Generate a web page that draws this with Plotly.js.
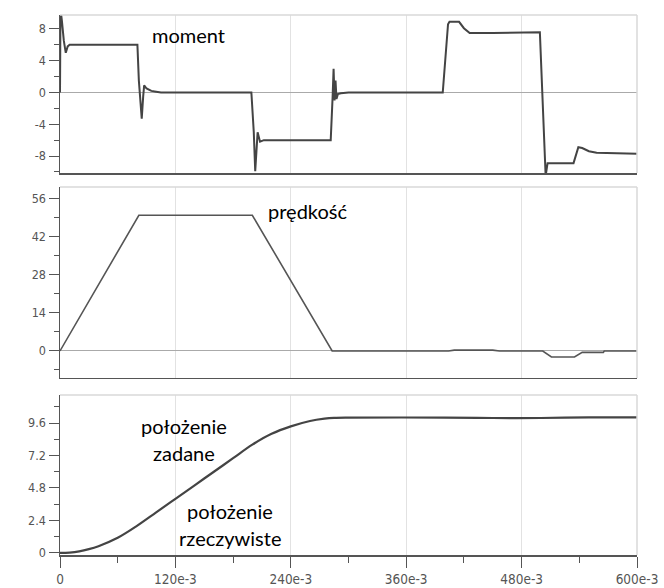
<!DOCTYPE html>
<html>
<head>
<meta charset="utf-8">
<script src="https://cdn.plot.ly/plotly-3.0.1.min.js"></script>
<style>html,body{margin:0;padding:0;background:#fff;}#chart{width:664px;height:588px;}</style>
</head>
<body>
<div id="chart"></div>
<script>
// ---- data ----
var momentT = [0, 0.0005, 0.002, 0.004, 0.006, 0.008, 0.01, 0.05, 0.0805, 0.082, 0.0835, 0.085, 0.0865, 0.0875, 0.09, 0.095, 0.1, 0.105, 0.15, 0.199, 0.2015, 0.203, 0.2055, 0.208, 0.212, 0.25, 0.2815, 0.2835, 0.2845, 0.2855, 0.2865, 0.2875, 0.289, 0.292, 0.3, 0.35, 0.398, 0.4035, 0.405, 0.415, 0.42, 0.426, 0.45, 0.499, 0.505, 0.507, 0.52, 0.534, 0.539, 0.543, 0.55, 0.558, 0.6];
var momentV = [0, 10.5, 9.0, 6.5, 5.0, 5.8, 6.0, 6.0, 6.0, 1.5, -1.0, -3.3, -0.5, 0.9, 0.5, 0.2, 0.1, 0.0, 0.0, 0.0, -5.0, -9.9, -5.0, -6.2, -6.0, -6.0, -6.0, -0.5, 3.0, -1.0, 1.5, -0.8, -0.2, -0.1, 0.0, 0.0, 0.0, 8.6, 8.9, 8.9, 8.1, 7.5, 7.5, 7.6, -10.5, -8.9, -8.9, -8.9, -6.9, -7.0, -7.4, -7.6, -7.7];

var speedT = [0, 0.082, 0.2, 0.283, 0.404, 0.41, 0.45, 0.457, 0.502, 0.511, 0.535, 0.543, 0.565, 0.566, 0.6];
var speedV = [0, 50, 50, 0, 0, 0.3, 0.3, 0, 0, -2.2, -2.2, -0.5, -0.5, 0, 0];

var posT = [0, 0.01, 0.02, 0.03, 0.04, 0.06, 0.08, 0.1, 0.12, 0.14, 0.16, 0.18, 0.2, 0.22, 0.24, 0.26, 0.275, 0.285, 0.3, 0.4, 0.45, 0.5, 0.55, 0.6];
var posV = [0, 0.03, 0.12, 0.28, 0.5, 1.12, 2.0, 3.0, 4.0, 5.0, 6.0, 7.0, 8.0, 8.8, 9.35, 9.75, 9.92, 9.98, 10.0, 10.0, 9.97, 9.97, 10.02, 10.02];

var xTickVals = [0, 0.12, 0.24, 0.36, 0.48, 0.6];
var xTickText = ['0', '120e-3', '240e-3', '360e-3', '480e-3', '600e-3'];
var momentTicks = [-8, -4, 0, 4, 8];
var momentTickText = ['-8', '-4', '0', '4', '8'];
var speedTicks = [0, 14, 28, 42, 56];
var speedTickText = ['0', '14', '28', '42', '56'];
var posTicks = [0, 2.4, 4.8, 7.2, 9.6];
var posTickText = ['0', '2.4', '4.8', '7.2', '9.6'];

// ---- styling ----
var tickFont = {family: 'Liberation Sans Narrow, DejaVu Sans Condensed, Liberation Sans, sans-serif', size: 12.5, color: '#555'};
var xTickFont = {family: 'Liberation Sans Narrow, DejaVu Sans Condensed, Liberation Sans, sans-serif', size: 13.5, color: '#555'};
var lblFont = {family: 'Lato, Open Sans, sans-serif', size: 20, color: '#000'};
var gridC = '#e2e2e2', axC = '#555';

function xax(domainAnchor, showLabels) {
  return {
    range: [0, 0.6], anchor: domainAnchor, showline: true, linecolor: axC, linewidth: 1.5,
    tickmode: 'array', tickvals: xTickVals, ticktext: xTickText,
    showticklabels: showLabels, ticks: showLabels ? 'outside' : '', ticklen: 11, tickcolor: axC,
    showgrid: true, gridcolor: gridC, gridwidth: 1, zeroline: false, tickfont: xTickFont,
    minor: showLabels ? {tickmode: 'linear', tick0: 0, dtick: 0.06, ticks: 'outside', ticklen: 6, tickcolor: axC, showgrid: false} : {}
  };
}
function yax(domain, anchor, range, tv, tt, minorStep, zl) {
  return {
    domain: domain, anchor: anchor, range: range, showline: true, linecolor: axC, linewidth: 1.5,
    tickmode: 'array', tickvals: tv, ticktext: tt, ticks: 'outside', ticklen: 10, tickcolor: axC, tickfont: tickFont,
    showgrid: false, zeroline: zl, zerolinecolor: '#aaa', zerolinewidth: 1,
    minor: {tickmode: 'linear', tick0: 0, dtick: minorStep, ticks: 'outside', ticklen: 5, tickcolor: axC, showgrid: false}
  };
}

var traces = [
  {x: momentT, y: momentV, xaxis: 'x', yaxis: 'y', mode: 'lines', line: {color: '#444', width: 2}, hoverinfo: 'skip'},
  {x: speedT, y: speedV, xaxis: 'x2', yaxis: 'y2', mode: 'lines', line: {color: '#555', width: 1.6}, hoverinfo: 'skip'},
  {x: posT, y: posV, xaxis: 'x3', yaxis: 'y3', mode: 'lines', line: {color: '#444', width: 2.2, shape: 'spline'}, hoverinfo: 'skip'}
];

function border(xr, yr) {
  return [
    {type: 'line', xref: xr + ' domain', yref: yr + ' domain', x0: 0, x1: 1, y0: 1, y1: 1, line: {color: '#d8d8d8', width: 1.5}},
    {type: 'line', xref: xr + ' domain', yref: yr + ' domain', x0: 1, x1: 1, y0: 0, y1: 1, line: {color: '#d8d8d8', width: 1.5}}
  ];
}

var layout = {
  width: 664, height: 588,
  margin: {l: 60, r: 27, t: 15, b: 33},
  paper_bgcolor: '#fff', plot_bgcolor: '#fff', showlegend: false,
  xaxis: xax('y', false),
  xaxis2: xax('y2', false),
  xaxis3: xax('y3', true),
  yaxis: yax([0.7074, 1.0], 'x', [-10.14, 9.76], momentTicks, momentTickText, 2, true),
  yaxis2: yax([0.3278, 0.6815], 'x2', [-9.95, 60.4], speedTicks, speedTickText, 7, true),
  yaxis3: yax([0, 0.2963], 'x3', [-0.15, 11.67], posTicks, posTickText, 1.2, false),
  shapes: [].concat(border('x', 'y'), border('x2', 'y2'), border('x3', 'y3')),
  annotations: [
    {text: 'moment', xref: 'x', yref: 'y', x: 0.134, y: 7.3, showarrow: false, font: lblFont},
    {text: 'prędkość', xref: 'x2', yref: 'y2', x: 0.257, y: 51.5, showarrow: false, font: lblFont},
    {text: 'położenie', xref: 'x3', yref: 'y3', x: 0.129, y: 9.4, showarrow: false, font: lblFont},
    {text: 'zadane', xref: 'x3', yref: 'y3', x: 0.129, y: 7.4, showarrow: false, font: lblFont},
    {text: 'położenie', xref: 'x3', yref: 'y3', x: 0.177, y: 3.1, showarrow: false, font: lblFont},
    {text: 'rzeczywiste', xref: 'x3', yref: 'y3', x: 0.177, y: 1.1, showarrow: false, font: lblFont}
  ]
};

Plotly.newPlot('chart', traces, layout, {staticPlot: true, displayModeBar: false});
</script>
</body>
</html>
